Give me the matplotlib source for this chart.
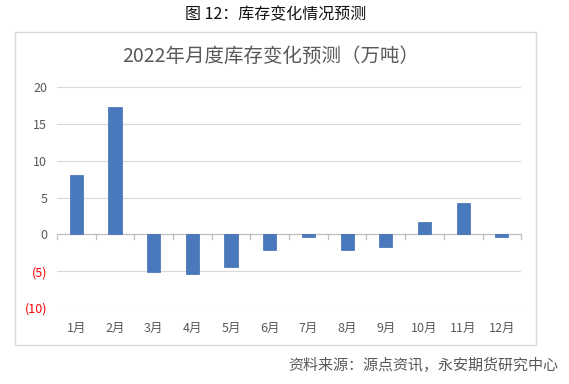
import matplotlib.pyplot as plt
from matplotlib.patches import Rectangle

plt.rcParams['font.family'] = ['Noto Sans CJK SC', 'DejaVu Sans']

months = ["1月", "2月", "3月", "4月", "5月", "6月", "7月", "8月", "9月", "10月", "11月", "12月"]
changes = [8.0, 17.3, -5.1, -5.4, -4.5, -2.1, -0.4, -2.1, -1.7, 1.7, 4.2, -0.3]
yticks = [-10, -5, 0, 5, 10, 15, 20]
ytick_labels = ["(10)", "(5)", "0", "5", "10", "15", "20"]

fig = plt.figure(figsize=(5.69, 3.84), dpi=100)

# outer frame of the chart
fig.patches.append(Rectangle((0.026, 0.102), 0.916, 0.815, transform=fig.transFigure,
                             fill=False, edgecolor="#d9d9d9", linewidth=1.0))

fig.text(0.484, 0.962, "图 12：库存变化情况预测", ha="center", va="center",
         fontsize=11.5, color="#111111")
fig.text(0.476, 0.852, "2022年月度库存变化预测（万吨）", ha="center", va="center",
         fontsize=14, color="#595959")
fig.text(0.981, 0.049, "资料来源：源点资讯，永安期货研究中心", ha="right", va="center",
         fontsize=10.8, color="#595959")

ax = fig.add_axes([0.100, 0.198, 0.816, 0.575])
x = range(len(months))
ax.bar(x, changes, width=0.34, color="#4a78bd", edgecolor="#3f6bb0", linewidth=0.5, zorder=3)

ax.set_xlim(-0.5, len(months) - 0.5)
ax.set_ylim(-10, 20)
ax.set_yticks(yticks)
ax.set_yticklabels(ytick_labels)
for lbl, v in zip(ax.get_yticklabels(), yticks):
    lbl.set_color("#ff0000" if v < 0 else "#595959")
ax.tick_params(axis="y", length=0, labelsize=9, pad=7)

for v in yticks:
    if v != 0:
        ax.axhline(v, color="#d9d9d9", linewidth=0.8, zorder=1)
ax.axhline(0, color="#bfbfbf", linewidth=0.9, zorder=2)

# category boundary ticks hanging below the zero line
for b in [i - 0.5 for i in range(len(months) + 1)]:
    ax.plot([b, b], [0, -0.6], color="#bfbfbf", linewidth=0.9, zorder=2, clip_on=False)

ax.set_xticks(list(x))
ax.set_xticklabels(months)
ax.tick_params(axis="x", length=0, labelsize=9, colors="#595959", pad=10)

for s in ax.spines.values():
    s.set_visible(False)

fig.savefig("out.png", dpi=100)
